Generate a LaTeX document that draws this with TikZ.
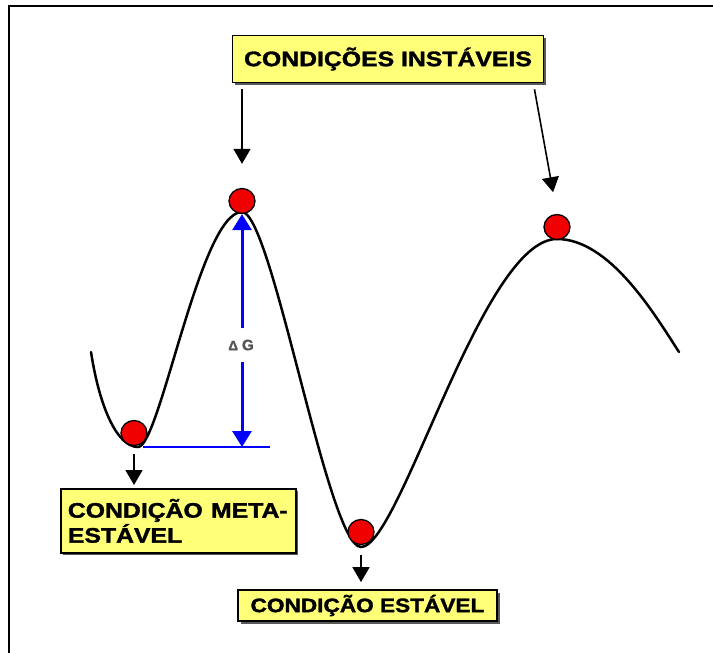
\documentclass[tikz,border=0pt]{standalone}
\usepackage{fontspec}
\setmainfont[BoldFeatures={FakeBold=1.5}]{Liberation Sans}
\usetikzlibrary{arrows.meta,shadows,shapes.geometric,calc}
\definecolor{boxyellow}{RGB}{255,255,120}
\definecolor{ballred}{RGB}{240,0,0}
\definecolor{dgblue}{RGB}{0,0,255}
\definecolor{dggray}{RGB}{85,85,85}
\begin{document}
\begin{tikzpicture}[x=1pt,y=-1pt,
  labelbox/.style={draw=black, line width=1.8pt, fill=boxyellow,
    drop shadow={shadow xshift=2.5pt, shadow yshift=-2.5pt, fill=black!65, opacity=1},
    inner sep=0pt, font=\bfseries\fontsize{21}{25}\selectfont},
  ball/.style={ellipse, draw=black, line width=1.3pt, fill=ballred,
    minimum width=26pt, minimum height=25pt, inner sep=0pt},
  blackarrow/.style={line width=1.6pt, -{Triangle[width=17pt,length=15pt]}},
  bluearrow/.style={draw=dgblue, fill=dgblue, line width=3pt, -{Triangle[width=19pt,length=16pt]}},
  blueline/.style={draw=dgblue, line width=2.5pt},
  curveline/.style={line width=2.5pt, line cap=round},
  frameline/.style={line width=2.5pt}
]
\useasboundingbox (0,0) rectangle (713,653);
% outer frame (top and left edges visible)
\draw[frameline] (9,653) -- (9,6) -- (713,6);

% energy curve
\draw[curveline] (91,352)
  .. controls (100,410) and (118,447) .. (138,447)
  .. controls (160,447) and (200,212) .. (242,212)
  .. controls (272,212) and (328,547) .. (361,547)
  .. controls (400,547) and (482,239) .. (557,239)
  .. controls (610,239) and (655,315) .. (679,352);

% balls
\node[ball] (b1) at (134,433) {};
\node[ball] (b2) at (242,201) {};
\node[ball] (b3) at (361,532) {};
\node[ball] (b4) at (557,227) {};

% label boxes
\node[labelbox, minimum width=311pt, minimum height=47pt] (top) at (388,59)
  {\scalebox{1.18}[1]{CONDIÇÕES INSTÁVEIS}};
\node[labelbox, anchor=north west, text width=221pt, inner xsep=7pt,
  minimum height=64pt, align=left] (meta) at (60,488)
  {\scalebox{1.18}[1]{CONDIÇÃO META-}\\\scalebox{1.18}[1]{ESTÁVEL}};
\node[labelbox, minimum width=259pt, minimum height=31pt,
  font=\bfseries\fontsize{19.5}{22}\selectfont] (stable) at (367.5,605.5)
  {\scalebox{1.16}[1]{CONDIÇÃO ESTÁVEL}};

% black arrows
\draw[blackarrow, shorten <=6pt, shorten >=24pt] (top.south -| b2) -- (b2.north);
\coordinate (trs) at ($(top.south east)+(-11,0)$);
\draw[blackarrow, shorten <=6pt, shorten >=22pt] (trs) -- (b4.north);
\draw[blackarrow, shorten <=8pt, shorten >=3pt] (b1.south) -- (b1.south |- meta.north);
\draw[blackarrow, shorten <=10pt, shorten >=7pt] (b3.south) -- (b3.south |- stable.north);

% Delta G
\coordinate (baseL) at (143,447);
\coordinate (baseR) at (270,447);
\coordinate (base) at (242,447);
\draw[blueline] (baseL) -- (baseR);
\node[text=dggray, font=\bfseries\fontsize{15}{17}\selectfont, inner xsep=0pt, inner ysep=11pt] (dG) at (241,345) {\scalebox{0.9}{Δ}\hspace{4pt}G};
\draw[bluearrow] (dG.north -| base) -- (b2.south);
\draw[bluearrow] (dG.south -| base) -- (base);
\end{tikzpicture}
\end{document}
